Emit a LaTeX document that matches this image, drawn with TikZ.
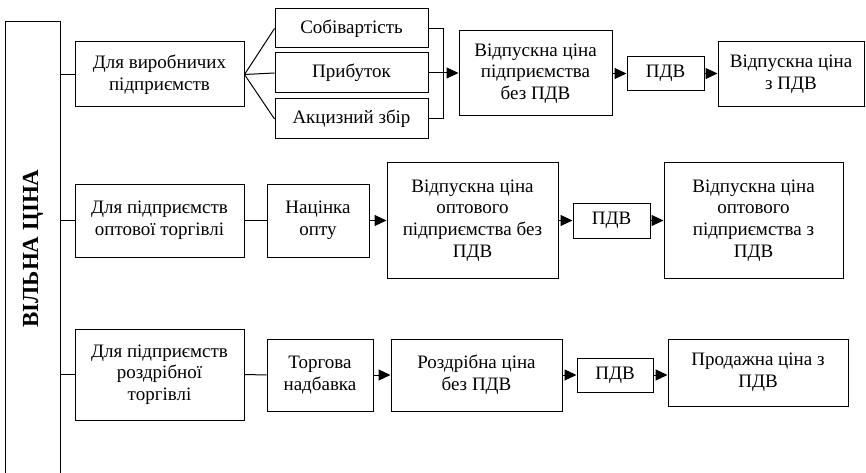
\documentclass[tikz,border=0pt]{standalone}
\usepackage{fontspec}
\setmainfont{Liberation Serif}
\newfontfamily\tnr{Liberation Serif}
\usetikzlibrary{arrows.meta}
\begin{document}
\begin{tikzpicture}[x=1pt,y=-1pt,
  box/.style={draw=none,rectangle,inner sep=0pt,align=center,
    font=\tnr\fontsize{19}{21.7}\selectfont},
  bx/.style={box,draw,line width=1pt},
  ln/.style={line width=1pt},
  ar/.style={line width=1pt,-{Triangle[length=12pt,width=11pt]}}]
\useasboundingbox (0,0) rectangle (866,473);
% left column
\node[box,minimum width=54pt,minimum height=453pt] (L) at (33,248.5)
  {\rotatebox{90}{\fontsize{23}{26}\selectfont\bfseries ВІЛЬНА ЦІНА}};
\draw[ln] (L.south west) -- (L.north west) -- (L.north east) -- (L.south east);
% row 1
\node[bx,minimum width=169pt,minimum height=65pt] (A1) at (159.5,74.5) {Для виробничих\\підприємств};
\node[bx,minimum width=153pt,minimum height=39pt] (S1) at (351.5,28.5) {Собівартість};
\node[bx,minimum width=153pt,minimum height=40pt] (S2) at (351.5,73) {Прибуток};
\node[bx,minimum width=153pt,minimum height=40pt] (S3) at (351.5,119) {Акцизний збір};
\node[bx,minimum width=153pt,minimum height=85pt] (B1) at (535.5,73.5) {Відпускна ціна\\підприємства\\без ПДВ};
\node[bx,minimum width=77pt,minimum height=34pt] (P1) at (665.5,73.5) {ПДВ};
\node[bx,minimum width=146pt,minimum height=65pt] (C1) at (791,74.5) {Відпускна ціна\\з ПДВ};
\coordinate (k1) at (443,0);
\draw[ln] (L.east |- A1.west) -- (A1.west);
\draw[ln] (A1.east) -- (S1.west);
\draw[ln] (A1.east) -- (S2.west);
\draw[ln] (A1.east) -- (S3.west);
\draw[ln] (S1.east) -- (S1.east -| k1) -- (S3.east -| k1) -- (S3.east);
\draw[ar] (S2.east) -- (S2.east -| B1.west);
\draw[ar] (B1.east |- P1.west) -- (P1.west);
\draw[ar] (P1.east) -- (P1.east -| C1.west);
% row 2
\node[bx,minimum width=169pt,minimum height=73pt] (A2) at (159.5,220.5) {Для підприємств\\оптової торгівлі};
\node[bx,minimum width=102pt,minimum height=73pt] (N2) at (318,220.5) {Націнка\\опту};
\node[bx,minimum width=171pt,minimum height=115pt] (B2) at (472.5,220.5) {Відпускна ціна\\оптового\\підприємства без\\ПДВ};
\node[bx,minimum width=77pt,minimum height=35pt] (P2) at (611.5,220.5) {ПДВ};
\node[bx,minimum width=179pt,minimum height=115pt] (C2) at (753.5,220.5) {Відпускна ціна\\оптового\\підприємства з\\ПДВ};
\draw[ln] (L.east |- A2.west) -- (A2.west);
\draw[ln] (A2.east) -- (N2.west);
\draw[ar] (N2.east) -- (B2.west);
\draw[ar] (B2.east) -- (P2.west);
\draw[ar] (P2.east) -- (C2.west);
% row 3
\node[bx,minimum width=169pt,minimum height=91pt] (A3) at (159.5,374.5) {Для підприємств\\роздрібної\\торгівлі};
\node[bx,minimum width=106pt,minimum height=72pt] (N3) at (320,375) {Торгова\\надбавка};
\node[bx,minimum width=171pt,minimum height=72pt] (B3) at (476.5,375) {Роздрібна ціна\\без ПДВ};
\node[bx,minimum width=76pt,minimum height=34pt] (P3) at (615,375) {ПДВ};
\node[bx,minimum width=180pt,minimum height=67pt] (C3) at (758,372.5) {Продажна ціна з\\ПДВ};
\draw[ln] (L.east |- A3.west) -- (A3.west);
\draw[ln] (A3.east) -- (N3.west);
\draw[ar] (N3.east) -- (B3.west);
\draw[ar] (B3.east) -- (P3.west);
\draw[ar] (P3.east) -- (P3.east -| C3.west);
\end{tikzpicture}
\end{document}
